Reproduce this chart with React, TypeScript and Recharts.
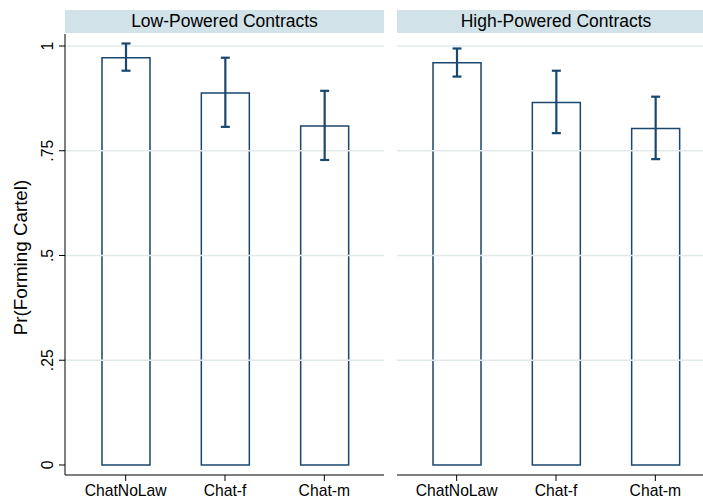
import React from 'react';
import { BarChart, Bar, XAxis, YAxis, ErrorBar, ReferenceLine } from 'recharts';

const categories = ['ChatNoLaw', 'Chat-f', 'Chat-m'];
const panelTitles = ['Low-Powered Contracts', 'High-Powered Contracts'];

const lowMean = [0.972, 0.888, 0.809];
const lowLower = [0.941, 0.807, 0.728];
const lowUpper = [1.006, 0.972, 0.893];

const highMean = [0.960, 0.865, 0.803];
const highLower = [0.927, 0.792, 0.730];
const highUpper = [0.994, 0.941, 0.879];

const yTicks = [0, 0.25, 0.5, 0.75, 1];
const gridValues = [0.25, 0.5, 0.75, 1];
const yLabel = 'Pr(Forming Cartel)';

const FONT = '"Liberation Sans", Arial, Helvetica, sans-serif';
const NAVY = '#1a476f';
const GRID = '#e1eaeb';
const STRIP = '#d1e2e8';
const DOMAIN: [number, number] = [-0.02387, 1.02864];

const buildData = (mean: number[], lo: number[], hi: number[]) =>
  categories.map((c, i) => ({
    cat: c,
    mean: mean[i],
    err: [mean[i] - lo[i], hi[i] - mean[i]],
  }));

const lowData = buildData(lowMean, lowLower, lowUpper);
const highData = buildData(highMean, highLower, highUpper);

const fmt = (v: number) => (v === 0 ? '0' : v === 1 ? '1' : String(v).replace(/^0/, ''));

const YTick = (props: any) => {
  const { x, y, payload } = props;
  const tx = x - 9;
  return (
    <text
      x={tx}
      y={y}
      transform={`rotate(-90, ${tx}, ${y})`}
      textAnchor="middle"
      dominantBaseline="central"
      fontSize={15.7}
      fontFamily={FONT}
      fill="#000"
    >
      {fmt(payload.value)}
    </text>
  );
};

const YLabel = (props: any) => {
  const { viewBox } = props;
  const cx = viewBox.x + 20;
  const cy = viewBox.y + viewBox.height / 2 + 3;
  return (
    <text
      x={cx}
      y={cy}
      transform={`rotate(-90, ${cx}, ${cy})`}
      textAnchor="middle"
      dominantBaseline="central"
      fontSize={18.8}
      fontFamily={FONT}
      fill="#000"
    >
      {yLabel}
    </text>
  );
};

const Panel = ({ data, showY, width }: { data: any[]; showY: boolean; width: number }) => (
  <BarChart
    width={width}
    height={500}
    data={data}
    margin={{ top: 34, right: 0, bottom: 0, left: 0 }}
    barCategoryGap={0}
  >
    {gridValues.map((v) => (
      <ReferenceLine key={v} y={v} stroke={GRID} strokeWidth={1.6} ifOverflow="extendDomain" />
    ))}
    <XAxis
      dataKey="cat"
      height={25}
      interval={0}
      tickSize={6}
      tickMargin={4}
      padding={showY ? { left: 11, right: 10 } : { left: 10, right: 10 }}
      axisLine={{ stroke: '#000', strokeWidth: 1 }}
      tickLine={{ stroke: '#000', strokeWidth: 1 }}
      tick={{ fontSize: 15.7, fontFamily: FONT, fill: '#000' }}
    />
    {showY ? (
      <YAxis
        width={65}
        domain={DOMAIN}
        allowDataOverflow
        ticks={yTicks}
        interval={0}
        tickSize={6}
        axisLine={{ stroke: '#000', strokeWidth: 1 }}
        tickLine={{ stroke: '#000', strokeWidth: 1 }}
        tick={<YTick />}
        label={<YLabel />}
      />
    ) : (
      <YAxis
        width={0}
        domain={DOMAIN}
        allowDataOverflow
        ticks={yTicks}
        axisLine={false}
        tickLine={false}
        tick={false}
      />
    )}
    <Bar
      dataKey="mean"
      fill="none"
      stroke={NAVY}
      strokeWidth={1.5}
      barSize={48}
      isAnimationActive={false}
    >
      <ErrorBar dataKey="err" direction="y" width={4.5} stroke={NAVY} strokeWidth={2.2} isAnimationActive={false} />
    </Bar>
  </BarChart>
);

const stripStyle = (left: number, width: number): React.CSSProperties => ({
  position: 'absolute',
  left,
  top: 10,
  width,
  height: 23,
  background: STRIP,
  fontFamily: FONT,
  fontSize: 17.5,
  lineHeight: '23px',
  textAlign: 'center',
  color: '#000',
  whiteSpace: 'nowrap',
});

export default function App() {
  return (
    <div
      style={{
        position: 'absolute',
        left: 0,
        top: 0,
        width: 703,
        height: 500,
        overflow: 'hidden',
        background: '#fff',
      }}
    >
      <div style={{ position: 'absolute', left: 0, top: 0 }}>
        <Panel data={lowData} showY={true} width={384} />
      </div>
      <div style={{ position: 'absolute', left: 397, top: 0 }}>
        <Panel data={highData} showY={false} width={318} />
      </div>
      <div style={stripStyle(65, 319)}>{panelTitles[0]}</div>
      <div style={stripStyle(397, 318)}>{panelTitles[1]}</div>
    </div>
  );
}
